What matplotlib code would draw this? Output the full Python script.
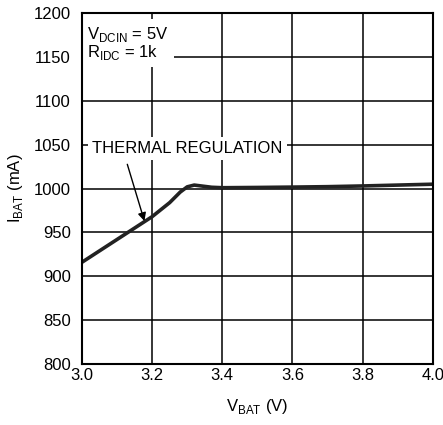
import matplotlib.pyplot as plt
import numpy as np

plt.rcParams['font.family'] = ['Liberation Sans', 'DejaVu Sans']

# curve
v_bat = [3.0, 3.05, 3.1, 3.15, 3.2, 3.25, 3.28, 3.30, 3.32, 3.34, 3.37, 3.4, 3.5, 3.6, 3.7, 3.8, 3.9, 4.0]
i_bat = [916, 929, 942, 955, 968, 984, 996, 1002, 1004, 1003, 1001.5, 1001, 1001.3, 1001.7, 1002.2, 1003, 1004, 1005]

x_ticks = [3.0, 3.2, 3.4, 3.6, 3.8, 4.0]
y_ticks = [800, 850, 900, 950, 1000, 1050, 1100, 1150, 1200]

fs = 12

fig = plt.figure(figsize=(4.43, 4.25), dpi=100)
ax = fig.add_axes([0.185, 0.1435, 0.792, 0.8255])

ax.plot(v_bat, i_bat, color='#222222', lw=2.6, zorder=3, solid_capstyle='butt')

ax.set_xlim(3.0, 4.0)
ax.set_ylim(800, 1200)
ax.set_xticks(x_ticks)
ax.set_xticklabels([f'{t:.1f}' for t in x_ticks])
ax.set_yticks(y_ticks)
ax.grid(True, color='black', lw=1.1)
ax.tick_params(axis='y', length=0, labelsize=fs, pad=8)
ax.tick_params(axis='x', length=0, labelsize=fs, pad=3)
for s in ax.spines.values():
    s.set_linewidth(1.5)
    s.set_zorder(10)

ax.set_xlabel(r'V$_{\mathregular{BAT}}$ (V)', fontsize=fs, labelpad=10)
ax.set_ylabel(r'I$_{\mathregular{BAT}}$ (mA)', fontsize=fs, labelpad=6)

ax.text(3.015, 1187, 'V$_{\\mathregular{DCIN}}$ = 5V\nR$_{\\mathregular{IDC}}$ = 1k',
        fontsize=fs, va='top', ha='left', linespacing=0.95,
        bbox=dict(facecolor='white', edgecolor='none', pad=4), zorder=5)

ax.annotate('THERMAL REGULATION', xy=(3.178, 963), xytext=(3.03, 1037),
            fontsize=fs, va='bottom', ha='left',
            bbox=dict(facecolor='white', edgecolor='none', pad=3),
            arrowprops=dict(arrowstyle='-|>', color='black', lw=1, shrinkA=3, shrinkB=0,
                            mutation_scale=12, relpos=(0.17, 0.0)),
            zorder=5)

fig.savefig('out.png', dpi=100)
